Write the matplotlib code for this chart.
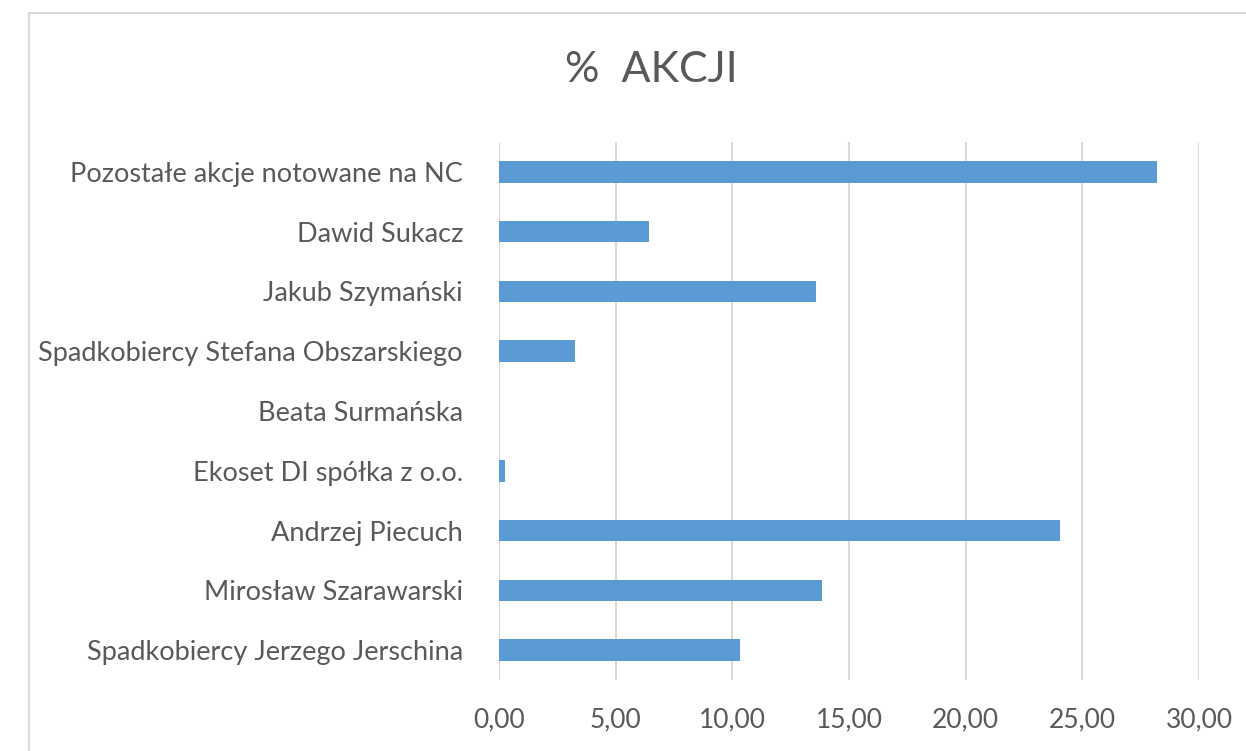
import matplotlib.pyplot as plt
from matplotlib.patches import Rectangle
from matplotlib.ticker import FuncFormatter

# wartosci (% akcji)
akcjonariusze = [
    'Spadkobiercy Jerzego Jerschina',
    'Mirosław Szarawarski',
    'Andrzej Piecuch',
    'Ekoset DI spółka z o.o.',
    'Beata Surmańska',
    'Spadkobiercy Stefana Obszarskiego',
    'Jakub Szymański',
    'Dawid Sukacz',
    'Pozostałe akcje notowane na NC',
]
procent = [10.33, 13.84, 24.05, 0.26, 0.0, 3.26, 13.59, 6.43, 28.20]
ticki_x = [0, 5, 10, 15, 20, 25, 30]

szary = '#595959'
plt.rcParams['font.family'] = ['Lato', 'DejaVu Sans']

fig = plt.figure(figsize=(12.46, 7.51), dpi=100)
# ramka wykresu (widoczna tylko gora i lewa strona)
fig.patches.append(Rectangle((29/1246, -0.1), 1.2, 1 - 13/751 + 0.1,
                             transform=fig.transFigure, fill=False,
                             edgecolor='#d9d9d9', linewidth=1.5))

ax = fig.add_axes([499/1246, 1 - 680/751, 700/1246, 538/751])
ax.barh(range(len(akcjonariusze)), procent, height=0.36, color='#5b9bd5', zorder=3)

ax.set_xlim(0, 30)
ax.set_ylim(-0.5, len(akcjonariusze) - 0.5)
ax.set_xticks(ticki_x)
ax.xaxis.set_major_formatter(FuncFormatter(lambda v, p: f'{v:.2f}'.replace('.', ',')))
ax.set_yticks(range(len(akcjonariusze)))
ax.set_yticklabels(akcjonariusze)
ax.grid(axis='x', color='#d9d9d9', linewidth=1.5, zorder=0)
for s in ax.spines.values():
    s.set_visible(False)
ax.tick_params(axis='y', length=0, pad=26, labelsize=19.5, labelcolor=szary)
ax.tick_params(axis='x', length=0, pad=20, labelsize=19, labelcolor=szary)

fig.text(651/1246, 1 - 70/751, '%  AKCJI', ha='center', va='center',
         fontsize=31, color=szary)

fig.savefig('out.png', dpi=100)
